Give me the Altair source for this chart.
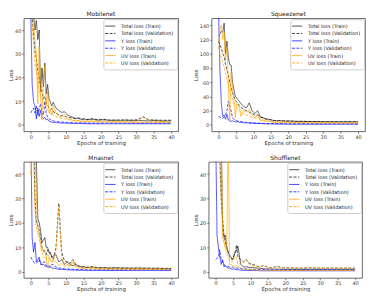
import altair as alt
import pandas as pd

EPOCHS = [0, 0.4, 0.8, 1.2, 1.6, 2, 2.4, 2.8, 3.2, 3.6, 4, 4.4, 4.8, 5.2, 5.6, 6, 6.4, 7.2, 8, 8.8,
          9.6, 10.4, 11.2, 12, 12.8, 13.6, 14.4, 15.2, 16, 17.6, 19.2, 20.8, 22.4, 24, 25.6, 27.2, 28.8, 30.4, 32, 33.6,
          35.2, 36.8, 38.4, 40]

SERIES = ["Total loss (Train)", "Total loss (Validation)", "Y loss (Train)",
          "Y loss (Validation)", "UV loss (Train)", "UV loss (Validation)"]
COLORS = ["#000000", "#000000", "#0000ff", "#0000ff", "#ffa500", "#ffa500"]
DASHES = [[1, 0], [3, 1.5], [1, 0], [3, 1.5], [1, 0], [3, 1.5]]
OPACITY = [0.7, 0.85, 0.75, 0.65, 0.6, 0.95]

# ---------------- Mobilenet ----------------
mob_total_train = [70, 56, 47, 40, 44, 36, 40, 14, 24, 16, 26, 13, 17, 11, 9.5, 8, 9.5, 7, 6, 5.2,
                   5.5, 4.2, 3.6, 3.1, 2.7, 2.9, 2.3, 2.5, 2.1, 2.3, 1.9, 2.1, 1.8, 1.9, 1.7, 2.0, 1.7, 1.8, 1.7, 1.6,
                   1.8, 1.6, 1.6, 1.6]
mob_total_val = [52, 46, 38, 31, 28, 23, 20, 16, 14, 11, 12, 9, 8.5, 7, 6.5, 6.8, 5.5, 4.8, 4.2, 3.8,
                 3.6, 3.2, 3.0, 2.7, 2.5, 2.7, 2.2, 2.4, 2.2, 2.6, 2.1, 2.3, 2.0, 1.9, 2.1, 1.9, 2.0, 2.1, 3.4, 2.1,
                 2.0, 1.9, 1.9, 1.9]
mob_y_train = [48, 17, 9.5, 8, 2.5, 7, 3.5, 6, 3, 2.5, 3.2, 2, 2.3, 1.5, 1.3, 1.1, 1.0, 0.9, 0.8, 0.7,
               0.7, 0.6, 0.6, 0.5, 0.5, 0.5, 0.5, 0.5, 0.4, 0.4, 0.4, 0.4, 0.4, 0.4, 0.4, 0.4, 0.4, 0.4, 0.4, 0.4,
               0.4, 0.4, 0.4, 0.4]
mob_y_val = [5, 6, 7, 5, 8, 4, 6.5, 9, 5, 4, 10, 5, 3.2, 2.6, 2.1, 1.8, 1.6, 1.4, 1.2, 1.1,
             1.0, 1.0, 0.9, 0.9, 0.8, 0.8, 0.8, 0.8, 0.7, 0.7, 0.7, 0.7, 0.7, 0.7, 0.7, 0.7, 0.7, 0.7, 0.7, 0.7,
             0.7, 0.7, 0.7, 0.7]
mob_uv_train = [80, 52, 45, 36, 30, 9, 33, 12, 2, 19, 25, 8, 14, 5, 6.5, 4, 8, 5, 3.5, 3.2,
                4.2, 2.6, 2.2, 1.9, 1.6, 1.7, 1.4, 1.5, 1.3, 1.3, 1.2, 1.2, 1.1, 1.1, 1.1, 1.1, 1.0, 1.0, 1.0, 1.0,
                1.0, 1.0, 1.0, 1.0]
mob_uv_val = [48, 42, 35, 26, 22, 18, 15, 12, 11, 9, 9.5, 7, 6.2, 5.2, 4.6, 5, 4, 3.5, 3, 2.6,
              2.5, 2.2, 2.0, 1.8, 1.7, 1.8, 1.5, 1.6, 1.5, 1.7, 1.5, 1.6, 1.4, 1.4, 1.5, 1.4, 1.4, 1.5, 3.1, 1.5,
              1.4, 1.4, 1.3, 1.3]

# ---------------- Squeezenet ----------------
sq_total_train = [125, 128, 132, 130, 143, 100, 118, 95, 85, 84, 60, 50, 40, 38, 35, 33, 30, 26, 24, 31,
                  20, 16, 20, 11, 10, 8.5, 8, 7, 6, 6, 5.5, 5.5, 5, 5, 5, 4.8, 4.8, 4.6, 4.6, 4.5,
                  4.5, 4.5, 4.4, 4.4]
sq_total_val = [118, 112, 108, 100, 96, 85, 78, 70, 60, 52, 45, 40, 35, 32, 30, 27, 25, 22, 20, 18,
                16, 14, 14, 11, 10, 8, 7.5, 7, 6, 6, 5.5, 5.2, 5, 5, 4.8, 4.8, 4.6, 4.6, 4.5, 4.5,
                4.4, 4.4, 4.3, 4.3]
sq_y_train = [160, 75, 30, 12, 14, 8, 15, 7, 6, 5, 6, 4.5, 5, 4, 5, 3.5, 4, 3, 3, 2.5,
              2.5, 2, 2, 2, 1.8, 1.5, 1.5, 1.5, 1.2, 1.2, 1.0, 1.0, 1.0, 1.0, 1.0, 1.0, 1.0, 1.0, 1.0, 1.0,
              1.0, 1.0, 1.0, 1.0]
sq_y_val = [12, 11, 10, 9, 12, 14, 20, 33, 26, 20, 10, 8, 7, 6, 5, 5, 4.5, 4, 3.5, 3.2,
            3, 2.8, 2.6, 2.4, 2.2, 2.1, 2.0, 2.0, 1.9, 1.8, 1.8, 1.7, 1.7, 1.7, 1.6, 1.6, 1.6, 1.6, 1.6, 1.6,
            1.6, 1.6, 1.6, 1.6]
sq_uv_train = [115, 135, 140, 120, 130, 90, 110, 60, 5, 75, 50, 35, 10, 30, 28, 25, 12, 20, 18, 22,
               14, 10, 15, 6, 6, 5, 5, 4, 3.5, 3.5, 3.2, 3.2, 3, 3, 3, 3, 2.9, 2.9, 2.9, 2.8,
               2.8, 2.8, 2.8, 2.8]
sq_uv_val = [110, 100, 95, 88, 82, 72, 65, 56, 48, 42, 36, 32, 28, 25, 22, 20, 18, 16, 14, 12,
             11, 10, 9, 8, 7, 6, 5.5, 5, 4.5, 4.2, 4, 3.8, 3.6, 3.5, 3.4, 3.3, 3.2, 3.2, 3.1, 3.1,
             3.0, 3.0, 3.0, 3.0]

# ---------------- Mnasnet ----------------
mn_total_train = [120, 80, 60, 50, 46, 22, 20, 17, 12, 13, 14, 10, 10, 8, 8, 6, 6.5, 7, 4, 5,
                  3, 4, 3, 2.5, 3, 2.2, 2, 2, 1.8, 1.8, 1.6, 1.6, 1.5, 1.6, 1.5, 1.5, 1.4, 1.5, 1.4, 1.4,
                  1.4, 1.4, 1.3, 1.3]
mn_total_val = [50, 60, 55, 30, 20, 19, 17, 14, 10, 9, 8, 7, 9, 8, 7, 6, 5, 10, 28, 8,
                4.5, 4, 3.5, 5, 3, 2.5, 2, 2, 1.8, 2.2, 1.6, 1.7, 1.5, 1.6, 1.5, 1.5, 1.5, 1.5, 1.5, 1.5,
                1.4, 1.4, 1.4, 1.4]
mn_y_train = [60, 14, 8, 12, 4, 5, 6, 3.5, 3, 3, 2.5, 2.2, 2, 1.8, 2, 1.5, 1.5, 1.3, 1.0, 1.0,
              0.9, 0.8, 0.8, 0.7, 0.7, 0.6, 0.6, 0.6, 0.5, 0.5, 0.5, 0.5, 0.5, 0.5, 0.5, 0.5, 0.5, 0.5, 0.5, 0.5,
              0.5, 0.5, 0.5, 0.5]
mn_y_val = [6, 5, 4, 3.5, 3.5, 4, 5, 3, 3, 4, 4, 2.5, 2, 2.5, 2, 3, 3, 2, 1.5, 1.5,
            1.2, 1.2, 1.0, 1.0, 1.0, 0.9, 0.9, 0.9, 0.8, 0.8, 0.8, 0.8, 0.8, 0.8, 0.8, 0.8, 0.8, 0.8, 0.8, 0.8,
            0.8, 0.8, 0.8, 0.8]
mn_uv_train = [90, 70, 55, 50, 30, 18, 15, 12, 10, 8, 9, 6, 1.5, 6, 5, 4, 5, 4, 2.5, 3.5,
               2, 3, 2, 4, 2, 1.6, 1.4, 1.4, 1.2, 1.3, 1.1, 1.1, 1.0, 1.1, 1.0, 1.0, 1.0, 1.0, 1.0, 1.0,
               1.0, 1.0, 0.9, 0.9]
mn_uv_val = [40, 60, 50, 25, 18, 16, 14, 10, 8, 6, 6, 5, 7, 6, 5, 4, 4, 9, 27, 6,
             3.5, 3, 2.5, 4.5, 2.5, 2, 1.8, 1.8, 1.6, 2.0, 1.4, 1.5, 1.3, 1.4, 1.3, 1.3, 1.3, 1.3, 1.5, 1.3,
             1.2, 1.2, 1.2, 1.2]

# ---------------- Shufflenet ----------------
sh_total_train = [120, 90, 70, 60, 55, 18, 14, 15, 10, 8, 7, 6, 5, 6, 8, 8.5, 10.5, 3, 2, 2,
                  1.8, 1.7, 1.6, 1.5, 1.4, 1.3, 1.2, 1.2, 1.1, 1.1, 1.0, 1.0, 1.0, 1.0, 1.0, 1.0, 1.0, 1.0, 1.0, 1.0,
                  1.0, 1.0, 1.0, 1.0]
sh_total_val = [90, 80, 60, 48, 30, 22, 15, 12, 10, 8, 6, 5.5, 5, 6.5, 8, 11, 6, 5, 4, 5,
                3.5, 3, 2.8, 2.2, 2, 2.5, 2.2, 1.8, 1.6, 2.2, 1.6, 1.6, 1.5, 1.5, 1.5, 1.6, 1.5, 1.5, 1.5, 1.5,
                1.5, 1.5, 1.5, 1.5]
sh_y_train = [60, 15, 10, 6, 3, 5, 2, 2.5, 1.8, 1.5, 1.5, 1.2, 1.0, 1.2, 1.0, 0.9, 0.8, 0.7, 0.6, 0.6,
              0.5, 0.5, 0.5, 0.5, 0.4, 0.4, 0.4, 0.4, 0.4, 0.4, 0.4, 0.4, 0.4, 0.4, 0.4, 0.4, 0.4, 0.4, 0.4, 0.4,
              0.4, 0.4, 0.4, 0.4]
sh_y_val = [5, 5.5, 6, 9, 5, 4, 3, 2.5, 2, 2.2, 2, 1.8, 2, 1.6, 1.5, 1.5, 1.4, 1.3, 1.2, 1.1,
            1.0, 1.0, 0.9, 0.9, 0.9, 0.9, 0.8, 0.8, 0.8, 0.8, 0.8, 0.8, 0.8, 0.8, 0.8, 0.8, 0.8, 0.8, 0.8, 0.8,
            0.8, 0.8, 0.8, 0.8]
sh_uv_train = [100, 90, 80, 70, 60, 14, 12, 10, 9, 60, 3, 3, 2.5, 2.5, 2, 2.5, 2, 1.5, 1.2, 1.0,
               0.9, 0.8, 0.8, 0.7, 0.7, 0.6, 0.6, 0.6, 0.5, 0.5, 0.5, 0.5, 0.5, 0.5, 0.5, 0.5, 0.5, 0.5, 0.5, 0.5,
               0.5, 0.5, 0.5, 0.5]
sh_uv_val = [80, 70, 55, 45, 30, 20, 12, 10, 8, 6, 5, 4.5, 4, 5, 6, 6, 3, 3.5, 4, 5,
             3, 2.5, 2.2, 2, 2, 2.5, 2.2, 1.8, 1.8, 2.0, 1.5, 1.5, 1.5, 1.5, 1.6, 1.6, 1.5, 1.5, 1.5, 1.5,
             1.5, 1.5, 1.5, 1.5]

X_TICKS = [0, 5, 10, 15, 20, 25, 30, 35, 40]
FONT = "DejaVu Sans"


def panel(title, lists, ydom, yticks, width, height):
    rows = []
    for s, vals in zip(SERIES, lists):
        for x, v in zip(EPOCHS, vals):
            rows.append({"epoch": x, "loss": v, "series": s})
    df = pd.DataFrame(rows)
    leg = alt.Legend(
        title=None, orient="top-right", offset=1, padding=3,
        fillColor="white", strokeColor="#cccccc", cornerRadius=2,
        labelFontSize=5, labelFont=FONT, labelColor="#222222",
        symbolType="M-1.6,0H1.6", symbolSize=42, symbolStrokeWidth=1,
        rowPadding=0.5, labelOffset=7, labelLimit=200,
    )
    return alt.Chart(df, title=alt.Title(title, fontSize=6, font=FONT, fontWeight="normal",
                                         offset=1, color="#222222")).mark_line(
        clip=True, strokeWidth=0.9
    ).encode(
        x=alt.X("epoch:Q", scale=alt.Scale(domain=[-2, 42], nice=False, zero=False),
                axis=alt.Axis(values=X_TICKS, title="Epochs of training")),
        y=alt.Y("loss:Q", scale=alt.Scale(domain=ydom, nice=False, zero=False),
                axis=alt.Axis(values=yticks, title="Loss")),
        color=alt.Color("series:N", scale=alt.Scale(domain=SERIES, range=COLORS), legend=leg),
        strokeDash=alt.StrokeDash("series:N", scale=alt.Scale(domain=SERIES, range=DASHES), legend=leg),
        opacity=alt.Opacity("series:N", scale=alt.Scale(domain=SERIES, range=OPACITY), legend=leg),
    ).properties(width=width, height=height)


p1 = panel("Mobilenet", [mob_total_train, mob_total_val, mob_y_train, mob_y_val, mob_uv_train, mob_uv_val],
           [-2.8, 45], [0, 10, 20, 30, 40], 157, 115)
p2 = panel("Squeezenet", [sq_total_train, sq_total_val, sq_y_train, sq_y_val, sq_uv_train, sq_uv_val],
           [-9, 150], [0, 20, 40, 60, 80, 100, 120, 140], 156, 115)
p3 = panel("Mnasnet", [mn_total_train, mn_total_val, mn_y_train, mn_y_val, mn_uv_train, mn_uv_val],
           [-2.5, 45], [0, 10, 20, 30, 40], 157, 118)
p4 = panel("Shufflenet", [sh_total_train, sh_total_val, sh_y_train, sh_y_val, sh_uv_train, sh_uv_val],
           [-2.5, 45], [0, 10, 20, 30, 40], 156, 118)

res = dict(color="independent", strokeDash="independent", opacity="independent")
row1 = alt.hconcat(p1, p2, spacing=14).resolve_scale(**res)
row2 = alt.hconcat(p3, p4, spacing=14).resolve_scale(**res)

chart = alt.vconcat(row1, row2, spacing=8).resolve_scale(**res).properties(
    padding=0
).configure_view(
    stroke="#444444", strokeWidth=0.8
).configure_axis(
    grid=False, domain=False, tickSize=2, tickColor="#333333", tickWidth=0.6,
    labelFontSize=5, labelFont=FONT, labelColor="#333333", labelPadding=1,
    titleFontSize=5.5, titleFont=FONT, titleFontWeight="normal", titleColor="#333333", titlePadding=1,
).configure_concat(spacing=8)

chart.save("out.html", embed_options={"renderer": "svg", "actions": False})
